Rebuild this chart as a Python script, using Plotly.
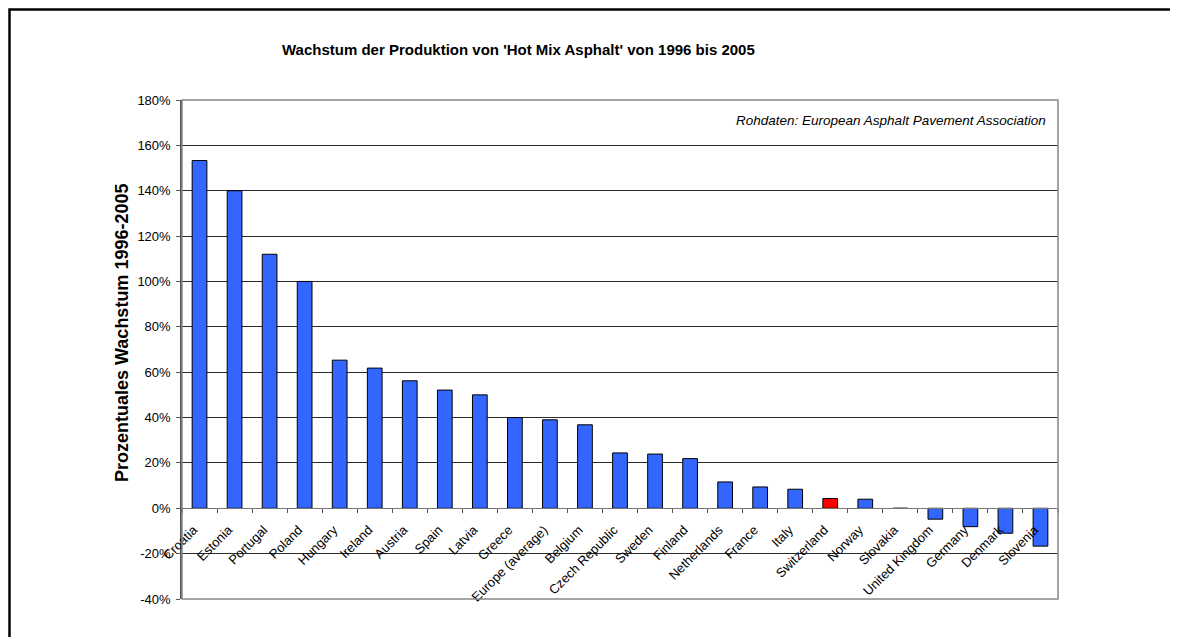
import plotly.graph_objects as go

countries = ["Croatia", "Estonia", "Portugal", "Poland", "Hungary", "Ireland", "Austria",
             "Spain", "Latvia", "Greece", "Europe (average)", "Belgium", "Czech Republic",
             "Sweden", "Finland", "Netherlands", "France", "Italy", "Switzerland", "Norway",
             "Slovakia", "United Kingdom", "Germany", "Denmark", "Slovenia"]
growth = [153.3, 140.0, 112.0, 100.0, 65.3, 61.8, 56.2, 52.1, 50.0, 40.0, 39.0, 36.8,
          24.4, 23.9, 21.9, 11.6, 9.4, 8.4, 4.3, 4.0, 0.0, -4.8, -8.1, -11.0, -16.7]
highlight = "Switzerland"

title_text = "Wachstum der Produktion von 'Hot Mix Asphalt' von 1996 bis 2005"
y_title = "Prozentuales Wachstum 1996-2005"
source_text = "Rohdaten: European Asphalt Pavement Association"

y_min, y_max, y_step = -40, 180, 20
y_ticks = list(range(y_min, y_max + 1, y_step))
y_ticktext = [f"{v}%" for v in y_ticks]

colors = ["#FF0000" if c == highlight else "#3366FF" for c in countries]

fig = go.Figure(go.Bar(
    x=countries, y=growth,
    marker=dict(color=colors, line=dict(color="#000000", width=1)),
))

# page body adds an 8px offset; desired plot area: x 182..1058, y 100..599
OFF = 8
W, H = 1178, 637
L, R, T, B = 182 - OFF, 128, 100 - OFF, 46
pw, ph = W - L - R, H - T - B


def px_x(x):
    return (x - OFF - L) / pw


def px_y(y):
    return (H - B - (y - OFF)) / ph


fig.update_layout(
    width=W, height=H,
    margin=dict(l=L, r=R, t=T, b=B),
    paper_bgcolor="white", plot_bgcolor="white",
    bargap=0.58,
    showlegend=False,
    font=dict(family="Liberation Sans, Arial", size=13, color="#000000"),
    xaxis=dict(
        anchor="free", position=(0 - y_min) / (y_max - y_min),
        showgrid=False, showline=True, linecolor="#777777", linewidth=1,
        ticks="outside", ticklen=4, tickcolor="#555555", tickson="boundaries",
        tickangle=-45, tickfont=dict(size=13), zeroline=False,
        ticklabelstandoff=8, ticklabelshift=-6,
    ),
    yaxis=dict(
        range=[y_min, y_max], tickvals=y_ticks, ticktext=y_ticktext,
        showgrid=True, gridcolor="#2a2a2a", gridwidth=1,
        showline=True, linecolor="#555555", linewidth=1.5,
        ticks="outside", ticklen=4, tickcolor="#555555",
        zeroline=False, tickfont=dict(size=13), ticklabelstandoff=3,
    ),
    shapes=[
        dict(type="rect", xref="paper", yref="paper", x0=0, x1=1, y0=0, y1=1,
             line=dict(color="#888888", width=1.5), layer="above"),
        dict(type="rect", xref="paper", yref="paper",
             x0=px_x(OFF + 1.5), x1=px_x(W + 20), y0=px_y(H + 20), y1=px_y(9.5),
             line=dict(color="#000000", width=2.5), layer="above"),
    ],
    annotations=[
        dict(text="<b>" + title_text + "</b>", xref="paper", yref="paper",
             x=px_x(518), y=px_y(50), xanchor="center", yanchor="middle",
             showarrow=False, font=dict(size=15)),
        dict(text="<b>" + y_title + "</b>", xref="paper", yref="paper",
             x=px_x(122), y=px_y(333), xanchor="center", yanchor="middle",
             textangle=-90, showarrow=False, font=dict(size=18)),
        dict(text="<i>" + source_text + "</i>", xref="paper", yref="paper",
             x=px_x(1048), y=px_y(120), xanchor="right", yanchor="middle",
             showarrow=False, font=dict(size=13.5)),
    ],
)

fig.write_html("out.html")
